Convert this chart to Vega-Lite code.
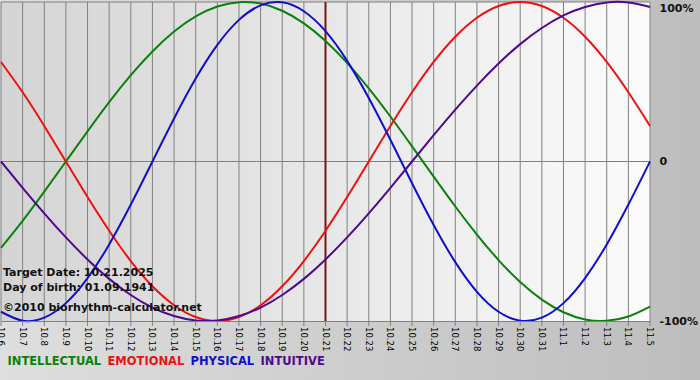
{
  "$schema": "https://vega.github.io/schema/vega-lite/v6.json",
  "width": 649,
  "height": 319,
  "autosize": "none",
  "padding": {"left": 1, "top": 2, "right": 50, "bottom": 59},
  "background": "#cccccc",
  "config": {"view": {"stroke": null}, "font": "DejaVu Sans"},
  "datasets": {
    "bio": [
      {"d": 0, "date": "10.6", "INTELLECTUAL": -54.1, "EMOTIONAL": 62.4, "PHYSICAL": -94.2, "INTUITIVE": 0},
      {"d": 1, "date": "10.7", "INTELLECTUAL": -37.2, "EMOTIONAL": 43.4, "PHYSICAL": -99.8, "INTUITIVE": -16.5},
      {"d": 2, "date": "10.8", "INTELLECTUAL": -18.9, "EMOTIONAL": 22.3, "PHYSICAL": -97.9, "INTUITIVE": -32.5},
      {"d": 3, "date": "10.9", "INTELLECTUAL": 0, "EMOTIONAL": 0, "PHYSICAL": -88.8, "INTUITIVE": -47.6},
      {"d": 4, "date": "10.10", "INTELLECTUAL": 18.9, "EMOTIONAL": -22.3, "PHYSICAL": -73.1, "INTUITIVE": -61.4},
      {"d": 5, "date": "10.11", "INTELLECTUAL": 37.2, "EMOTIONAL": -43.4, "PHYSICAL": -52.0, "INTUITIVE": -73.6},
      {"d": 6, "date": "10.12", "INTELLECTUAL": 54.1, "EMOTIONAL": -62.4, "PHYSICAL": -27.0, "INTUITIVE": -83.7},
      {"d": 7, "date": "10.13", "INTELLECTUAL": 69.0, "EMOTIONAL": -78.2, "PHYSICAL": 0, "INTUITIVE": -91.6},
      {"d": 8, "date": "10.14", "INTELLECTUAL": 81.5, "EMOTIONAL": -90.1, "PHYSICAL": 27.0, "INTUITIVE": -96.9},
      {"d": 9, "date": "10.15", "INTELLECTUAL": 91.0, "EMOTIONAL": -97.5, "PHYSICAL": 52.0, "INTUITIVE": -99.7},
      {"d": 10, "date": "10.16", "INTELLECTUAL": 97.2, "EMOTIONAL": -100, "PHYSICAL": 73.1, "INTUITIVE": -99.7},
      {"d": 11, "date": "10.17", "INTELLECTUAL": 99.9, "EMOTIONAL": -97.5, "PHYSICAL": 88.8, "INTUITIVE": -96.9},
      {"d": 12, "date": "10.18", "INTELLECTUAL": 99.0, "EMOTIONAL": -90.1, "PHYSICAL": 97.9, "INTUITIVE": -91.6},
      {"d": 13, "date": "10.19", "INTELLECTUAL": 94.5, "EMOTIONAL": -78.2, "PHYSICAL": 99.8, "INTUITIVE": -83.7},
      {"d": 14, "date": "10.20", "INTELLECTUAL": 86.6, "EMOTIONAL": -62.4, "PHYSICAL": 94.2, "INTUITIVE": -73.6},
      {"d": 15, "date": "10.21", "INTELLECTUAL": 75.6, "EMOTIONAL": -43.4, "PHYSICAL": 81.7, "INTUITIVE": -61.4},
      {"d": 16, "date": "10.22", "INTELLECTUAL": 61.8, "EMOTIONAL": -22.3, "PHYSICAL": 63.1, "INTUITIVE": -47.6},
      {"d": 17, "date": "10.23", "INTELLECTUAL": 45.8, "EMOTIONAL": 0, "PHYSICAL": 39.8, "INTUITIVE": -32.5},
      {"d": 18, "date": "10.24", "INTELLECTUAL": 28.2, "EMOTIONAL": 22.3, "PHYSICAL": 13.6, "INTUITIVE": -16.5},
      {"d": 19, "date": "10.25", "INTELLECTUAL": 9.5, "EMOTIONAL": 43.4, "PHYSICAL": -13.6, "INTUITIVE": 0},
      {"d": 20, "date": "10.26", "INTELLECTUAL": -9.5, "EMOTIONAL": 62.4, "PHYSICAL": -39.8, "INTUITIVE": 16.5},
      {"d": 21, "date": "10.27", "INTELLECTUAL": -28.2, "EMOTIONAL": 78.2, "PHYSICAL": -63.1, "INTUITIVE": 32.5},
      {"d": 22, "date": "10.28", "INTELLECTUAL": -45.8, "EMOTIONAL": 90.1, "PHYSICAL": -81.7, "INTUITIVE": 47.6},
      {"d": 23, "date": "10.29", "INTELLECTUAL": -61.8, "EMOTIONAL": 97.5, "PHYSICAL": -94.2, "INTUITIVE": 61.4},
      {"d": 24, "date": "10.30", "INTELLECTUAL": -75.6, "EMOTIONAL": 100, "PHYSICAL": -99.8, "INTUITIVE": 73.6},
      {"d": 25, "date": "10.31", "INTELLECTUAL": -86.6, "EMOTIONAL": 97.5, "PHYSICAL": -97.9, "INTUITIVE": 83.7},
      {"d": 26, "date": "11.1", "INTELLECTUAL": -94.5, "EMOTIONAL": 90.1, "PHYSICAL": -88.8, "INTUITIVE": 91.6},
      {"d": 27, "date": "11.2", "INTELLECTUAL": -99.0, "EMOTIONAL": 78.2, "PHYSICAL": -73.1, "INTUITIVE": 96.9},
      {"d": 28, "date": "11.3", "INTELLECTUAL": -99.9, "EMOTIONAL": 62.4, "PHYSICAL": -52.0, "INTUITIVE": 99.7},
      {"d": 29, "date": "11.4", "INTELLECTUAL": -97.2, "EMOTIONAL": 43.4, "PHYSICAL": -27.0, "INTUITIVE": 99.7},
      {"d": 30, "date": "11.5", "INTELLECTUAL": -91.0, "EMOTIONAL": 22.3, "PHYSICAL": 0, "INTUITIVE": 96.9}
    ],
    "levels": [{"level": 100}, {"level": 0}],
    "one": [{}]
  },
  "layer": [
    {
      "data": {"name": "one"},
      "mark": {"type": "rect", "fill": {"gradient": "linear", "x1": 0, "x2": 1, "y1": 0, "y2": 0, "stops": [{"offset": 0, "color": "#dedede"}, {"offset": 1, "color": "#bdbdbd"}]}},
      "encoding": {
        "x": {
          "datum": -0.1, "type": "quantitative",
          "scale": {"domain": [0, 30], "nice": false, "zero": false},
          "axis": {
            "labels": false, "ticks": false, "domain": true, "domainColor": "#808080",
            "grid": false, "title": null, "zindex": 1
          }
        },
        "x2": {"datum": 32.5},
        "y": {
          "datum": -140, "type": "quantitative",
          "scale": {"domain": [-100, 100], "nice": false, "zero": false},
          "axis": {
            "orient": "right", "values": [100, 0, -100],
            "labelExpr": "datum.value == 0 ? '0' : datum.value + '%'",
            "ticks": false, "domain": false, "grid": false, "title": null,
            "labelPadding": 9, "labelFontSize": 11, "labelFontWeight": "bold", "labelColor": "#111111",
            "labelBaseline": {"condition": {"test": "datum.value == 100", "value": "top"}, "value": "middle"},
            "labelFlush": false, "labelBound": false, "zindex": 1
          }
        },
        "y2": {"datum": 102}
      }
    },
    {
      "data": {"name": "one"},
      "mark": {"type": "rect", "fill": {"gradient": "linear", "x1": 0, "x2": 1, "y1": 0, "y2": 0, "stops": [{"offset": 0, "color": "#d4d4d4"}, {"offset": 1, "color": "#fbfbfb"}]}},
      "encoding": {
        "x": {"datum": 0, "type": "quantitative"},
        "x2": {"datum": 30},
        "y": {"datum": -100, "type": "quantitative"},
        "y2": {"datum": 100}
      }
    },
    {
      "data": {"name": "bio"},
      "mark": {"type": "rule", "color": "#808080", "strokeWidth": 1},
      "encoding": {"x": {"field": "d", "type": "quantitative"}}
    },
    {
      "data": {"name": "bio"},
      "mark": {"type": "rule", "color": "#808080", "strokeWidth": 1},
      "encoding": {
        "x": {"field": "d", "type": "quantitative"},
        "y": {"datum": -100, "type": "quantitative"},
        "y2": {"datum": -103.1}
      }
    },
    {
      "data": {"name": "bio"},
      "mark": {"type": "text", "angle": 90, "align": "left", "baseline": "middle", "dx": 6, "fontSize": 8.5, "color": "#000000"},
      "encoding": {
        "x": {"field": "d", "type": "quantitative"},
        "y": {"datum": -100, "type": "quantitative"},
        "text": {"field": "date", "type": "nominal"}
      }
    },
    {
      "data": {"name": "levels"},
      "mark": {"type": "rule", "color": "#808080", "strokeWidth": 1},
      "encoding": {"y": {"field": "level", "type": "quantitative"}}
    },
    {
      "data": {"name": "one"},
      "mark": {"type": "rule", "color": "#7d1212", "strokeWidth": 2},
      "encoding": {"x": {"datum": 15, "type": "quantitative"}}
    },
    {
      "data": {"name": "bio"},
      "transform": [{"fold": ["INTELLECTUAL", "EMOTIONAL", "PHYSICAL", "INTUITIVE"], "as": ["series", "value"]}],
      "mark": {"type": "line", "strokeWidth": 2, "interpolate": "natural"},
      "encoding": {
        "x": {"field": "d", "type": "quantitative"},
        "y": {"field": "value", "type": "quantitative"},
        "color": {
          "field": "series", "type": "nominal",
          "scale": {"domain": ["INTELLECTUAL", "EMOTIONAL", "PHYSICAL", "INTUITIVE"], "range": ["#0c800c", "#ee1111", "#1010cc", "#4e0a8c"]},
          "legend": {
            "orient": "none", "legendX": 7, "legendY": 354, "direction": "horizontal",
            "title": null, "symbolType": "circle", "symbolSize": 0, "symbolStrokeWidth": 0, "symbolOpacity": 0, "labelOffset": -12,
            "columnPadding": 5, "padding": 0, "labelFontSize": 11.5, "labelFontWeight": "bold",
            "labelLimit": 300, "zindex": 1,
            "encode": {"labels": {"update": {"fill": {"scale": "color", "field": "value"}}}}
          }
        }
      }
    },
    {
      "data": {"name": "one"},
      "mark": {"type": "text", "text": "Target Date: 10.21.2025", "align": "left", "baseline": "alphabetic", "dx": 2, "fontSize": 11, "fontWeight": "bold", "color": "#111111"},
      "encoding": {"x": {"datum": 0, "type": "quantitative"}, "y": {"datum": -71.8, "type": "quantitative"}}
    },
    {
      "data": {"name": "one"},
      "mark": {"type": "text", "text": "Day of birth: 01.09.1941", "align": "left", "baseline": "alphabetic", "dx": 2, "fontSize": 11, "fontWeight": "bold", "color": "#111111"},
      "encoding": {"x": {"datum": 0, "type": "quantitative"}, "y": {"datum": -81.5, "type": "quantitative"}}
    },
    {
      "data": {"name": "one"},
      "mark": {"type": "text", "text": "©2010 biorhythm-calculator.net", "align": "left", "baseline": "alphabetic", "dx": 2, "fontSize": 11, "fontWeight": "bold", "color": "#111111"},
      "encoding": {"x": {"datum": 0, "type": "quantitative"}, "y": {"datum": -93.7, "type": "quantitative"}}
    }
  ]
}
